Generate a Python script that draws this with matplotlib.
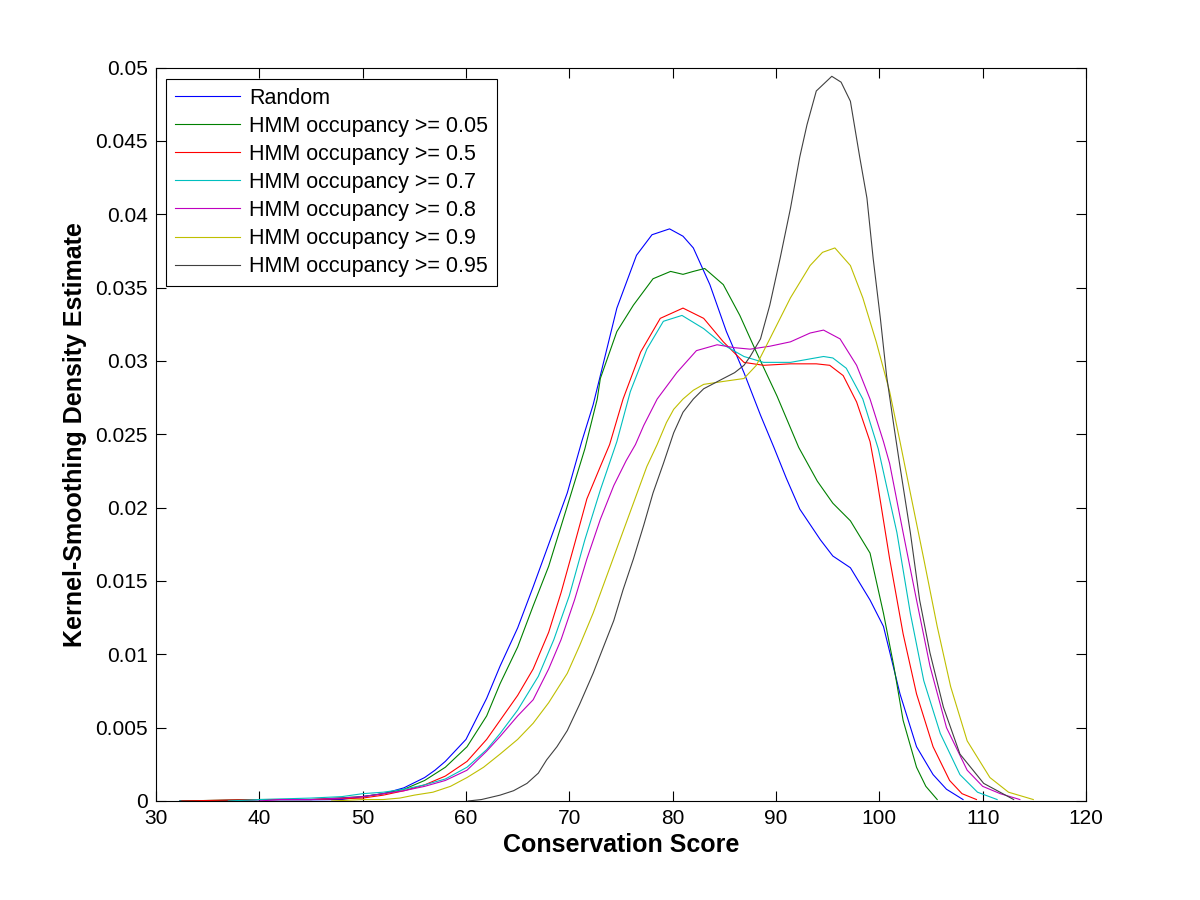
import numpy as np
import matplotlib
matplotlib.use('Agg')
import matplotlib.pyplot as plt

plt.rcParams['font.family'] = ['Liberation Sans', 'DejaVu Sans']

# kernel density curves (x = conservation score, y = density)
random_x = [32.3, 36, 40, 45, 48, 50, 52, 54, 56, 57, 58, 60, 62, 63.3, 65, 66.5, 68, 69.8, 71.2, 72.3, 73,
            74.6, 76.5, 78, 79.7, 81, 82, 83.6, 85.2, 86.9, 88.5, 89.8, 91, 92.3, 94.3, 95.5, 97.2, 99.1,
            100.4, 102.0, 103.6, 105.2, 106.5, 108.1]
random_y = [0.0, 0.00003, 0.00008, 0.00008, 0.0001, 0.0003, 0.0005, 0.0009, 0.0016, 0.0021, 0.0027, 0.0042,
            0.0070, 0.0092, 0.0118, 0.0146, 0.0175, 0.0210, 0.0245, 0.0270, 0.0290, 0.0336, 0.0372, 0.0386,
            0.0390, 0.0385, 0.0377, 0.0352, 0.0320, 0.0292, 0.0263, 0.0241, 0.0220, 0.0199, 0.0178, 0.0167,
            0.0159, 0.0137, 0.0119, 0.0073, 0.0037, 0.0018, 0.0008, 0.0001]

occ005_x = [32.3, 36, 40, 45, 50, 52, 54, 56, 58, 60.1, 62, 63.3, 65, 66.5, 68, 69.8, 71.5, 72.7, 73.0, 74.6,
            76.2, 78.1, 79.8, 81.0, 82, 83.1, 84.9, 86.5, 88.1, 90.1, 92.2, 94, 95.5, 97.2, 99.1, 100.4,
            101.4, 102.3, 103.6, 104.5, 105.6]
occ005_y = [0.0, 0.00005, 0.0001, 0.0001, 0.0003, 0.0005, 0.0008, 0.0014, 0.0023, 0.0037, 0.0058, 0.0080,
            0.0105, 0.0133, 0.0160, 0.0201, 0.0240, 0.0274, 0.0288, 0.0320, 0.0338, 0.0356, 0.0361, 0.0359,
            0.0361, 0.0363, 0.0352, 0.0331, 0.0306, 0.0276, 0.0241, 0.0218, 0.0203, 0.0191, 0.0169, 0.0128,
            0.0092, 0.0055, 0.0023, 0.0010, 0.0001]

occ05_x = [32.5, 36, 40, 45, 50, 52, 54, 56, 58, 60.1, 62, 63.3, 65, 66.5, 68, 69.2, 70.5, 71.7, 73.0, 73.9,
           75.2, 76.9, 78.8, 81.0, 83.0, 84.9, 86.9, 88.8, 91.4, 93.9, 95.2, 96.5, 97.8, 99.1, 99.7, 101.0,
           102.3, 103.6, 105.2, 106.8, 108, 109.4]
occ05_y = [0.0, 0.00005, 0.0001, 0.0001, 0.0002, 0.0004, 0.0007, 0.0011, 0.0017, 0.0027, 0.0042, 0.0055,
           0.0072, 0.0090, 0.0115, 0.0142, 0.0175, 0.0206, 0.0228, 0.0243, 0.0274, 0.0306, 0.0329, 0.0336,
           0.0329, 0.0313, 0.0299, 0.0297, 0.0298, 0.0298, 0.0297, 0.0290, 0.0272, 0.0245, 0.0222, 0.0165,
           0.0114, 0.0073, 0.0037, 0.0014, 0.0005, 0.0001]

occ07_x = [37, 40, 45, 48, 50, 52, 54, 56, 58, 60.1, 62, 63.3, 65, 67, 68.5, 70, 71.5, 73, 74.6, 75.9, 77.5,
           79.1, 80.9, 83.0, 84.9, 86.9, 88.8, 91.4, 93, 94.6, 95.5, 96.8, 98.4, 99.9, 101.7, 103.0, 104.3,
           105.9, 107.8, 109.5, 111.4]
occ07_y = [0.0, 0.0001, 0.0002, 0.0003, 0.0005, 0.0006, 0.0008, 0.0011, 0.0015, 0.0023, 0.0035, 0.0046,
           0.0062, 0.0085, 0.0110, 0.0140, 0.0178, 0.0212, 0.0245, 0.0279, 0.0308, 0.0327, 0.0331, 0.0322,
           0.0311, 0.0303, 0.0299, 0.0299, 0.0301, 0.0303, 0.0302, 0.0295, 0.0274, 0.0240, 0.0183, 0.0128,
           0.0082, 0.0046, 0.0018, 0.0006, 0.0001]

occ08_x = [40, 42, 45, 48, 50, 52, 54, 56, 58, 60.1, 62, 63.3, 65, 66.5, 68, 69.2, 70.5, 71.7, 73, 74.3,
           75.5, 76.4, 77.2, 78.5, 80.4, 82.3, 84.3, 86, 87.5, 89.4, 91.4, 93.3, 94.6, 96.2, 97.8, 99.1,
           100.4, 101.0, 102.3, 103.6, 104.9, 106.5, 108.5, 110, 111.7, 113.6]
occ08_y = [0.0, 0.0001, 0.0001, 0.0002, 0.0003, 0.0005, 0.0007, 0.0010, 0.0014, 0.0021, 0.0034, 0.0044,
           0.0058, 0.0069, 0.0090, 0.0110, 0.0137, 0.0165, 0.0192, 0.0215, 0.0232, 0.0243, 0.0256, 0.0274,
           0.0292, 0.0307, 0.0311, 0.0309, 0.0308, 0.0310, 0.0313, 0.0319, 0.0321, 0.0315, 0.0297, 0.0274,
           0.0245, 0.0230, 0.0183, 0.0137, 0.0092, 0.0050, 0.0021, 0.0010, 0.0005, 0.0001]

occ09_x = [47, 50, 52, 53.6, 55, 56.8, 58.5, 60.1, 61.7, 63.3, 65, 66.5, 68, 69.8, 71, 72.3, 73.6, 74.9,
           76.2, 77.5, 78.5, 79.4, 80.1, 81.0, 82, 83.0, 84.9, 86.9, 88.1, 89.4, 91.4, 93.3, 94.5, 95.7,
           97.2, 98.4, 99.7, 101.0, 102.0, 103.0, 104.3, 105.6, 106.9, 108.5, 110.7, 112.5, 114.9]
occ09_y = [0.0, 0.0001, 0.0001, 0.0002, 0.0004, 0.0006, 0.0010, 0.0016, 0.0023, 0.0032, 0.0042, 0.0053,
           0.0067, 0.0087, 0.0106, 0.0128, 0.0153, 0.0178, 0.0203, 0.0228, 0.0243, 0.0258, 0.0267, 0.0274,
           0.0280, 0.0284, 0.0286, 0.0288, 0.0297, 0.0315, 0.0343, 0.0365, 0.0374, 0.0377, 0.0365, 0.0343,
           0.0313, 0.0279, 0.0245, 0.0210, 0.0165, 0.0119, 0.0078, 0.0041, 0.0016, 0.0006, 0.0001]

occ095_x = [60.2, 61.5, 63.3, 64.6, 65.9, 67, 67.8, 68.8, 69.8, 71, 72.3, 73.3, 74.3, 75.2, 76.2, 77.2, 78.1,
            79.1, 80.1, 81.0, 82.0, 83.0, 84.9, 86.0, 86.9, 87.5, 88.5, 89.4, 90.4, 91.4, 92.3, 93.0, 93.9,
            95.4, 96.3, 97.2, 98.1, 98.8, 99.4, 100.1, 100.7, 101.4, 102.0, 103.0, 103.9, 104.9, 106.2,
            107.8, 110.1, 113.0]
occ095_y = [0.0, 0.0001, 0.0004, 0.0007, 0.0012, 0.0019, 0.0028, 0.0037, 0.0048, 0.0066, 0.0087, 0.0105,
            0.0123, 0.0144, 0.0165, 0.0188, 0.0210, 0.0230, 0.0251, 0.0265, 0.0274, 0.0281, 0.0288, 0.0292,
            0.0297, 0.0303, 0.0315, 0.0338, 0.0370, 0.0404, 0.0439, 0.0461, 0.0484, 0.0494, 0.0490, 0.0477,
            0.0439, 0.0411, 0.0370, 0.0329, 0.0290, 0.0256, 0.0228, 0.0183, 0.0137, 0.0101, 0.0064, 0.0032,
            0.0012, 0.0001]

labels = ['Random', 'HMM occupancy >= 0.05', 'HMM occupancy >= 0.5', 'HMM occupancy >= 0.7',
          'HMM occupancy >= 0.8', 'HMM occupancy >= 0.9', 'HMM occupancy >= 0.95']
series = [(random_x, random_y), (occ005_x, occ005_y), (occ05_x, occ05_y), (occ07_x, occ07_y),
          (occ08_x, occ08_y), (occ09_x, occ09_y), (occ095_x, occ095_y)]

# old matlab color order
colors = [(0, 0, 1), (0, 0.5, 0), (1, 0, 0), (0, 0.75, 0.75), (0.75, 0, 0.75), (0.75, 0.75, 0),
          (0.25, 0.25, 0.25)]

x_ticks = [30, 40, 50, 60, 70, 80, 90, 100, 110, 120]
y_ticks = [0, 0.005, 0.01, 0.015, 0.02, 0.025, 0.03, 0.035, 0.04, 0.045, 0.05]
y_tick_labels = ['0', '0.005', '0.01', '0.015', '0.02', '0.025', '0.03', '0.035', '0.04', '0.045', '0.05']


def draw():
    fig = plt.figure(figsize=(12, 9), dpi=100)
    ax = fig.add_axes([0.13, 0.11, 0.775, 0.815])

    for (xs, ys), c, lab in zip(series, colors, labels):
        ax.plot(xs, ys, color=c, lw=0.8, label=lab)

    ax.set_xlim(30, 120)
    ax.set_ylim(0, 0.05)
    ax.set_xticks(x_ticks)
    ax.set_yticks(y_ticks)
    ax.set_yticklabels(y_tick_labels)
    ax.tick_params(direction='in', length=7, width=0.8, labelsize=15, pad=6,
                   top=True, right=True)
    for sp in ax.spines.values():
        sp.set_linewidth(0.8)

    ax.set_xlabel('Conservation Score', fontsize=18, fontweight='bold', labelpad=3)
    ax.set_ylabel('Kernel-Smoothing Density Estimate', fontsize=18, fontweight='bold', labelpad=6)

    leg = ax.legend(loc='upper left', bbox_to_anchor=(10 / 930, 1 - 11 / 733), borderaxespad=0,
                    fontsize=15.5, fancybox=False, edgecolor='black', framealpha=1,
                    handlelength=3.0, handletextpad=0.45, labelspacing=0.33, borderpad=0.42)
    leg.get_frame().set_linewidth(0.8)

    fig.savefig('out.png', dpi=100, facecolor='white')


if __name__ == '__main__':
    draw()
